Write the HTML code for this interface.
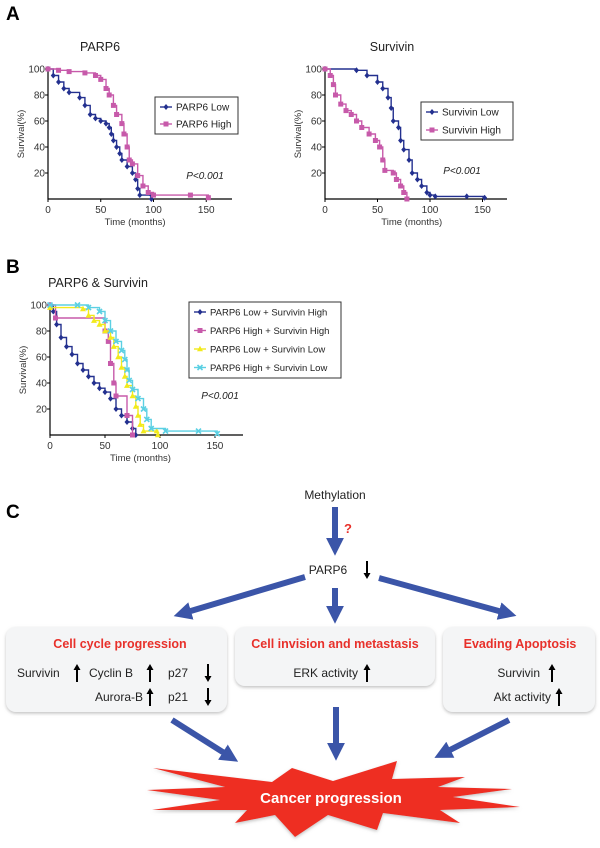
<!DOCTYPE html>
<html><head><meta charset="utf-8">
<style>
body{margin:0;background:#fff;}
svg{display:block;font-family:"Liberation Sans",sans-serif;}
</style></head>
<body>
<svg id="fig" width="600" height="848" viewBox="0 0 600 848" xmlns="http://www.w3.org/2000/svg">
<defs>
<filter id="sh" x="-5%" y="-5%" width="110%" height="120%"><feDropShadow dx="0" dy="1.5" stdDeviation="1.5" flood-color="#999" flood-opacity="0.6"/></filter>
<marker id="ah" markerWidth="3" markerHeight="3" refX="1.2" refY="1.5" orient="auto" markerUnits="strokeWidth"><path d="M0,0 L3,1.5 L0,3 z" fill="#3b55a8"/></marker>
<path id="up" d="M-1,9 L1,9 L1,-3 L3.5,-3 L0,-9 L-3.5,-3 L-1,-3 Z" fill="#000"/>
<path id="down" d="M-1,-9 L1,-9 L1,3 L3.5,3 L0,9 L-3.5,3 L-1,3 Z" fill="#000"/>
</defs>
<text x="6" y="20" font-size="19" font-weight="bold">A</text>
<text x="6" y="273" font-size="19" font-weight="bold">B</text>
<text x="6" y="518" font-size="19" font-weight="bold">C</text>
<g id="charts"></g>

<g font-size="12" fill="#222">
<text x="335" y="499" text-anchor="middle">Methylation</text>
<line x1="335" y1="507" x2="335" y2="545" stroke="#3b55a8" stroke-width="6" marker-end="url(#ah)"/>
<text x="348" y="533" fill="#e8302a" font-weight="bold" font-size="13" text-anchor="middle">?</text>
<text x="328" y="574" text-anchor="middle">PARP6</text>
<use href="#down" x="367" y="570"/>
<line x1="305" y1="577" x2="184" y2="613" stroke="#3b55a8" stroke-width="6" marker-end="url(#ah)"/>
<line x1="335" y1="588" x2="335" y2="613" stroke="#3b55a8" stroke-width="6" marker-end="url(#ah)"/>
<line x1="379" y1="578" x2="506" y2="613" stroke="#3b55a8" stroke-width="6" marker-end="url(#ah)"/>

<rect x="6" y="627" width="221" height="85" rx="10" fill="#f4f5f6" filter="url(#sh)"/>
<rect x="235" y="627" width="200" height="59" rx="10" fill="#f4f5f6" filter="url(#sh)"/>
<rect x="443" y="627" width="152" height="85" rx="10" fill="#f4f5f6" filter="url(#sh)"/>

<g font-weight="bold" fill="#e8302a" font-size="12.5" text-anchor="middle">
<text x="120" y="648">Cell cycle progression</text>
<text x="335" y="648">Cell invision and metastasis</text>
<text x="520" y="648">Evading Apoptosis</text>
</g>
<g font-size="12" fill="#222">
<text x="17" y="677">Survivin</text>
<use href="#up" x="77" y="673"/>
<text x="89" y="677">Cyclin B</text>
<use href="#up" x="150" y="673"/>
<text x="168" y="677">p27</text>
<use href="#down" x="208" y="673"/>
<text x="143" y="701" text-anchor="end">Aurora-B</text>
<use href="#up" x="150" y="697"/>
<text x="168" y="701">p21</text>
<use href="#down" x="208" y="697"/>
<text x="358" y="677" text-anchor="end">ERK activity</text>
<use href="#up" x="367" y="673"/>
<text x="540" y="677" text-anchor="end">Survivin</text>
<use href="#up" x="552" y="673"/>
<text x="551" y="701" text-anchor="end">Akt activity</text>
<use href="#up" x="559" y="697"/>
</g>

<line x1="172" y1="720" x2="229" y2="756" stroke="#3b55a8" stroke-width="6" marker-end="url(#ah)"/>
<line x1="336" y1="707" x2="336" y2="750" stroke="#3b55a8" stroke-width="6" marker-end="url(#ah)"/>
<line x1="509" y1="720" x2="444" y2="753" stroke="#3b55a8" stroke-width="6" marker-end="url(#ah)"/>

<polygon points="153,768 272,782 292,768 333,781 397,761 392,779 465,777 438,787 512,789 453,797 520,807 440,810 460,823 383,813 377,830 328,815 295,837 275,815 235,823 247,810 152,810 220,800 147,790 225,787" fill="#ee2e24" filter="url(#sh)"/>
<text x="331" y="803" text-anchor="middle" fill="#fff" font-weight="bold" font-size="15">Cancer progression</text>
</g>
</svg>

<script>
// ---- Data (time in months, survival in %) ----
const parp6LowT  = [0,5,10,15,20,30,35,40,45,50,55,58,60,62,65,68,70,75,80,83,85,87,98,98];
const parp6LowS  = [100,95,90,85,82,78,72,65,62,60,58,55,50,45,40,35,30,25,20,15,8,3,3,0];
const parp6HighT = [0,10,20,35,45,50,55,58,62,65,70,72,75,77,80,85,90,95,100,135,152];
const parp6HighS = [100,99,98,97,95,92,85,80,72,65,58,50,40,30,27,18,10,5,3,3,1];

const survLowT  = [0,30,40,50,55,60,63,65,70,72,75,80,83,88,92,97,100,105,135,152];
const survLowS  = [100,99,95,90,85,78,70,60,55,45,38,30,20,15,10,5,3,2,2,1];
const survHighT = [0,5,8,10,15,20,25,30,35,42,48,52,55,57,65,68,72,75,78];
const survHighS = [100,95,88,80,73,68,65,60,55,50,45,40,30,22,20,15,10,5,0];

const lowHighT = [0,3,6,10,15,20,25,30,35,40,45,50,55,60,65,70,75,78];
const lowHighS = [100,95,85,75,68,62,55,50,45,40,36,33,28,20,15,10,5,0];
const highHighT = [0,5,50,53,55,58,60,70,75];
const highHighS = [100,90,80,72,55,40,30,15,0];
const lowLowT = [0,30,35,40,45,50,55,58,62,65,68,70,75,78,80,82,85,97,98];
const lowLowS = [98,97,92,88,85,80,75,68,60,52,45,38,30,22,15,8,3,3,0];
const highLowT = [0,25,35,45,50,55,60,65,68,70,72,75,80,85,88,92,105,135,152];
const highLowS = [100,100,98,95,88,80,72,65,58,50,42,35,28,20,12,5,3,3,1];

const xTicks = [0,50,100,150];
const yTicks = [20,40,60,80,100];

const NS = "http://www.w3.org/2000/svg";
const root = document.getElementById('charts');
function mk(tag, attrs, parent){
  const e = document.createElementNS(NS, tag);
  for (const k in attrs) e.setAttribute(k, attrs[k]);
  (parent||root).appendChild(e);
  return e;
}
function marker(g, shape, x, y, color){
  let m;
  if (shape==='diamond'){ m = mk('path',{d:`M${x},${y-3} L${x+2.5},${y} L${x},${y+3} L${x-2.5},${y} Z`,fill:color},g); }
  else if (shape==='square'){ m = mk('rect',{x:x-2.5,y:y-2.5,width:5,height:5,fill:color},g); }
  else if (shape==='triangle'){ m = mk('path',{d:`M${x},${y-3.2} L${x+3},${y+2.3} L${x-3},${y+2.3} Z`,fill:color},g); }
  else { m = mk('path',{d:`M${x-2.5},${y-2.5} L${x+2.5},${y+2.5} M${x+2.5},${y-2.5} L${x-2.5},${y+2.5}`,stroke:color,'stroke-width':1.6},g); }
  
  
}
function chart(cfg){
  const g = mk('g',{});
  
  
  const sx = t => cfg.x0 + t*cfg.kx;
  const sy = v => cfg.y0 - v*cfg.ky;
  const t = mk('text',{x:cfg.titleX,y:cfg.titleY,'font-size':12.5,'text-anchor':'middle',fill:'#222'},g);
  t.textContent = cfg.title;
  
  
  const ax = mk('path',{d:`M${cfg.x0},${sy(102)} L${cfg.x0},${cfg.y0} L${cfg.xEnd},${cfg.y0}`,stroke:'#000','stroke-width':1.2,fill:'none'},g);
  
  
  xTicks.forEach(v=>{
    mk('line',{x1:sx(v),x2:sx(v),y1:cfg.y0,y2:cfg.y0+3,stroke:'#000'},g);
    const l = mk('text',{x:sx(v),y:cfg.y0+14,'font-size':10,'text-anchor':'middle',fill:'#333'},g);
    l.textContent = v;
    
    
  });
  yTicks.forEach(v=>{
    mk('line',{x1:cfg.x0-3,x2:cfg.x0,y1:sy(v),y2:sy(v),stroke:'#000'},g);
    const l = mk('text',{x:cfg.x0-3,y:sy(v)+3.5,'font-size':10,'text-anchor':'end',fill:'#333'},g);
    l.textContent = v;
    
    
  });
  const xl = mk('text',{x:(cfg.x0+sx(150))/2+8,y:cfg.y0+26,'font-size':9.5,'text-anchor':'middle',fill:'#333'},g);
  xl.textContent = 'Time (months)';
  
  
  const yl = mk('text',{x:0,y:0,'font-size':9.5,'text-anchor':'middle',fill:'#333',transform:`translate(${cfg.x0-24},${sy(50)}) rotate(-90)`},g);
  yl.textContent = 'Survival(%)';
  
  
  cfg.series.forEach(s=>{
    let d = `M${sx(s.t[0])},${sy(s.s[0])}`;
    for (let i=1;i<s.t.length;i++){ d += ` L${sx(s.t[i])},${sy(s.s[i-1])} L${sx(s.t[i])},${sy(s.s[i])}`; }
    const p = mk('path',{d:d,stroke:s.color,'stroke-width':1.4,fill:'none'},g);
    
    
    for (let i=0;i<s.t.length;i++) marker(g, s.shape, sx(s.t[i]), sy(s.s[i]), s.color);
  });
  const L = cfg.legend;
  const lb = mk('rect',{x:L.x,y:L.y,width:L.w,height:L.h,fill:'#fff',stroke:'#333','stroke-width':1},g);
  
  
  cfg.series.forEach((s,i)=>{
    const yy = L.y + L.pad + i*L.dy;
    mk('line',{x1:L.x+5,x2:L.x+17,y1:yy,y2:yy,stroke:s.color,'stroke-width':1.4},g);
    marker(g, s.shape, L.x+11, yy, s.color);
    const tx = mk('text',{x:L.x+21,y:yy+3.5,'font-size':L.fs,fill:'#222'},g);
    tx.textContent = s.label;
    
    
  });
  const pv = mk('text',{x:cfg.px,y:cfg.py,'font-size':10,'font-style':'italic','text-anchor':'middle',fill:'#222'},g);
  pv.textContent = 'P<0.001';
  
  
}
const NAVY='#23308f', MAG='#c75aaa', YEL='#f2ea1c', CYAN='#5bd0e3';
chart({name:'parp6-km-chart',title:'PARP6',titleX:100,titleY:51,x0:48,y0:199,kx:1.055,ky:1.3,xEnd:232,px:205,py:179,
  legend:{x:155,y:97,w:83,h:37,pad:10,dy:17,fs:10},
  series:[{key:'parp6-low',label:'PARP6 Low',t:parp6LowT,s:parp6LowS,color:NAVY,shape:'diamond'},
          {key:'parp6-high',label:'PARP6 High',t:parp6HighT,s:parp6HighS,color:MAG,shape:'square'}]});
chart({name:'survivin-km-chart',title:'Survivin',titleX:392,titleY:51,x0:325,y0:199,kx:1.05,ky:1.3,xEnd:507,px:462,py:174,
  legend:{x:421,y:102,w:92,h:38,pad:10,dy:18,fs:10},
  series:[{key:'survivin-low',label:'Survivin Low',t:survLowT,s:survLowS,color:NAVY,shape:'diamond'},
          {key:'survivin-high',label:'Survivin High',t:survHighT,s:survHighS,color:MAG,shape:'square'}]});
chart({name:'combined-km-chart',title:'PARP6 & Survivin',titleX:98,titleY:287,x0:50,y0:435,kx:1.1,ky:1.3,xEnd:243,px:220,py:399,
  legend:{x:189,y:302,w:152,h:76,pad:10,dy:18.5,fs:9.5},
  series:[{key:'low-high',label:'PARP6 Low + Survivin High',t:lowHighT,s:lowHighS,color:NAVY,shape:'diamond'},
          {key:'high-high',label:'PARP6 High + Survivin High',t:highHighT,s:highHighS,color:MAG,shape:'square'},
          {key:'low-low',label:'PARP6 Low + Survivin Low',t:lowLowT,s:lowLowS,color:YEL,shape:'triangle'},
          {key:'high-low',label:'PARP6 High + Survivin Low',t:highLowT,s:highLowS,color:CYAN,shape:'cross'}]});
</script>
</body></html>
